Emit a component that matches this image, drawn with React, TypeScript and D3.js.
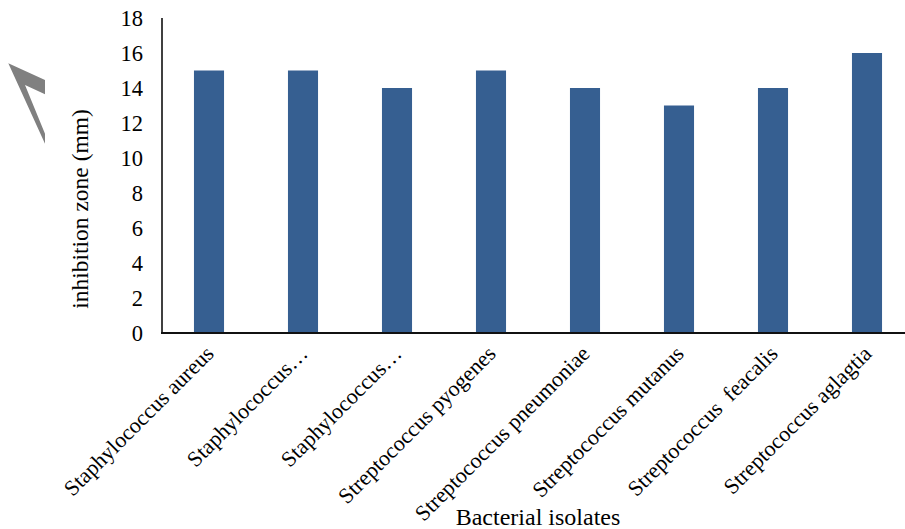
import React from "react";
import * as d3 from "d3";

// Inhibition zone (mm) per bacterial isolate
const isolates: string[] = [
  "Staphylococcus aureus",
  "Staphylococcus…",
  "Staphylococcus…",
  "Streptococcus pyogenes",
  "Streptococcus pneumoniae",
  "Streptococcus mutanus",
  "Streptococcus  feacalis",
  "Streptococcus aglagtia",
];
const zones: number[] = [15, 15, 14, 15, 14, 13, 14, 16];
const yTicks: number[] = [0, 2, 4, 6, 8, 10, 12, 14, 16, 18];

const W = 905;
const H = 529;
const FONT = "'Liberation Serif', 'Times New Roman', serif";
const BAR = "#365F91";

export default function App() {
  const x = d3
    .scaleBand<number>()
    .domain(d3.range(isolates.length))
    .range([162, 914])
    .paddingInner(0.68)
    .paddingOuter(0.34);
  const y = d3.scaleLinear().domain([0, 18]).range([333, 18]);

  return (
    <svg
      width={W}
      height={H}
      style={{ position: "absolute", left: 0, top: 0, background: "#fff" }}
      fontFamily={FONT}
    >
      {/* grey chevron mark at the left edge */}
      <path
        d="M8.3,63.3 L45,80 L45,94.3 L25,85 L45,133.7 L45,143.7 Z"
        fill="#808080"
      />

      {/* bars */}
      {zones.map((v, i) => (
        <rect
          key={i}
          x={x(i)!}
          y={y(v)}
          width={x.bandwidth()}
          height={y(0) - y(v)}
          fill={BAR}
        />
      ))}

      {/* axes */}
      <line x1={162} x2={162} y1={y(18)} y2={y(0)} stroke="#000" strokeWidth={1.5} />
      <line x1={161} x2={W} y1={y(0)} y2={y(0)} stroke="#111" strokeWidth={2} />

      {/* y tick labels */}
      {yTicks.map((t) => (
        <text
          key={t}
          x={143}
          y={y(t)}
          dy="0.35em"
          textAnchor="end"
          fontSize={22.5}
          fill="#000"
        >
          {t}
        </text>
      ))}

      {/* category labels */}
      {isolates.map((name, i) => {
        const cx = x(i)! + x.bandwidth() / 2 + 6;
        const cy = 355;
        return (
          <text
            key={i}
            x={cx}
            y={cy}
            textAnchor="end"
            fontSize={22}
            fill="#000"
            transform={`rotate(-45 ${cx} ${cy})`}
            style={{ whiteSpace: "pre" }}
          >
            {name}
          </text>
        );
      })}

      {/* axis titles */}
      <text
        x={0}
        y={0}
        transform={`translate(88 209) rotate(-90)`}
        textAnchor="middle"
        fontSize={23.5}
        fill="#000"
      >
        inhibition zone (mm)
      </text>
      <text x={538} y={525} textAnchor="middle" fontSize={24} fill="#000">
        Bacterial isolates
      </text>
    </svg>
  );
}
